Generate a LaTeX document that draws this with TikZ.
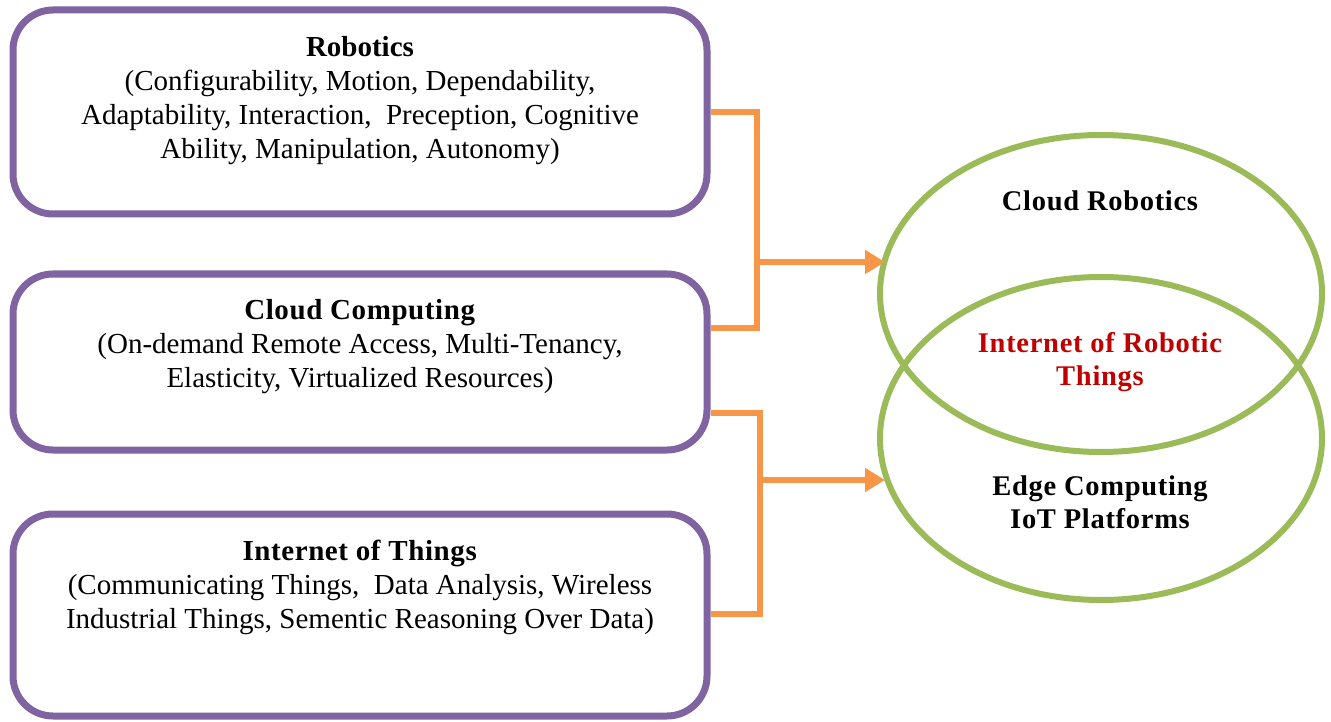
\documentclass[tikz,border=0pt]{standalone}
\usepackage{fontspec}
\setmainfont{Liberation Serif}
\usetikzlibrary{shapes.geometric,arrows.meta}
\definecolor{boxpurple}{HTML}{8064A2}
\definecolor{connorange}{HTML}{F79646}
\definecolor{ellgreen}{HTML}{9BBB59}
\definecolor{iortred}{HTML}{C00000}
\begin{document}
\begin{tikzpicture}[x=1pt,y=-1pt,
  boxstyle/.style={draw=boxpurple,line width=7pt,rounded corners=40pt,minimum width=694pt,inner sep=0pt},
  txtstyle/.style={align=center,font=\fontsize{29}{34}\selectfont,inner sep=0pt},
  elltxt/.style={align=center,font=\fontsize{28.5}{33}\selectfont\bfseries\addfontfeature{LetterSpace=2.5},inner sep=0pt},
  ellstyle/.style={draw=ellgreen,line width=6pt,ellipse,minimum width=442pt,inner sep=0pt},
  conn/.style={draw=connorange,line width=6pt},
  connarrow/.style={conn,-{Triangle[width=23pt,length=20pt]}}]
\useasboundingbox (0,0) rectangle (1331,722);
% boxes
\node[boxstyle,minimum height=204pt] (rob) at (360,112) {};
\node[boxstyle,minimum height=176pt] (cc) at (360,362) {};
\node[boxstyle,minimum height=202pt] (iot) at (360,615) {};
\node[txtstyle] (robtxt) at (360,101) {\textbf{Robotics}\\(Configurability, Motion, Dependability,\\Adaptability, Interaction,\ \ Preception, Cognitive\\Ability, Manipulation, Autonomy)};
\node[txtstyle] (cctxt) at (360,347) {\textbf{\addfontfeature{LetterSpace=2}Cloud Computing}\\(On-demand Remote Access, Multi-Tenancy,\\Elasticity, Virtualized Resources)};
\node[txtstyle] (iottxt) at (360,587) {\textbf{\addfontfeature{LetterSpace=2}Internet of Things}\\(Communicating Things,\ \ Data Analysis, Wireless\\Industrial Things, Sementic Reasoning Over Data)};
% ellipses
\node[ellstyle,minimum height=317pt] (cr) at (1101,293.5) {};
\node[ellstyle,minimum height=323pt] (ec) at (1101,438.5) {};
\node[elltxt] (crtxt) at (1100,201) {Cloud Robotics};
\node[elltxt,text=iortred] (iorttxt) at (1100,362) {Internet of Robotic\\Things};
\node[elltxt] (ectxt) at (1100,502) {Edge Computing\\IoT Platforms};
% connectors
\coordinate (j1) at (757,262);
\coordinate (j2) at (760,480);
\draw[conn] (rob.east) -| (j1) |- ([yshift=34pt]cc.east);
\draw[connarrow] (j1) -- ([xshift=8pt]cr.west |- j1);
\draw[conn] ([yshift=-51pt]cc.east) -| (j2) |- ([yshift=1pt]iot.east);
\draw[connarrow] (j2) -- ([xshift=8pt]ec.west |- j2);
\end{tikzpicture}
\end{document}
